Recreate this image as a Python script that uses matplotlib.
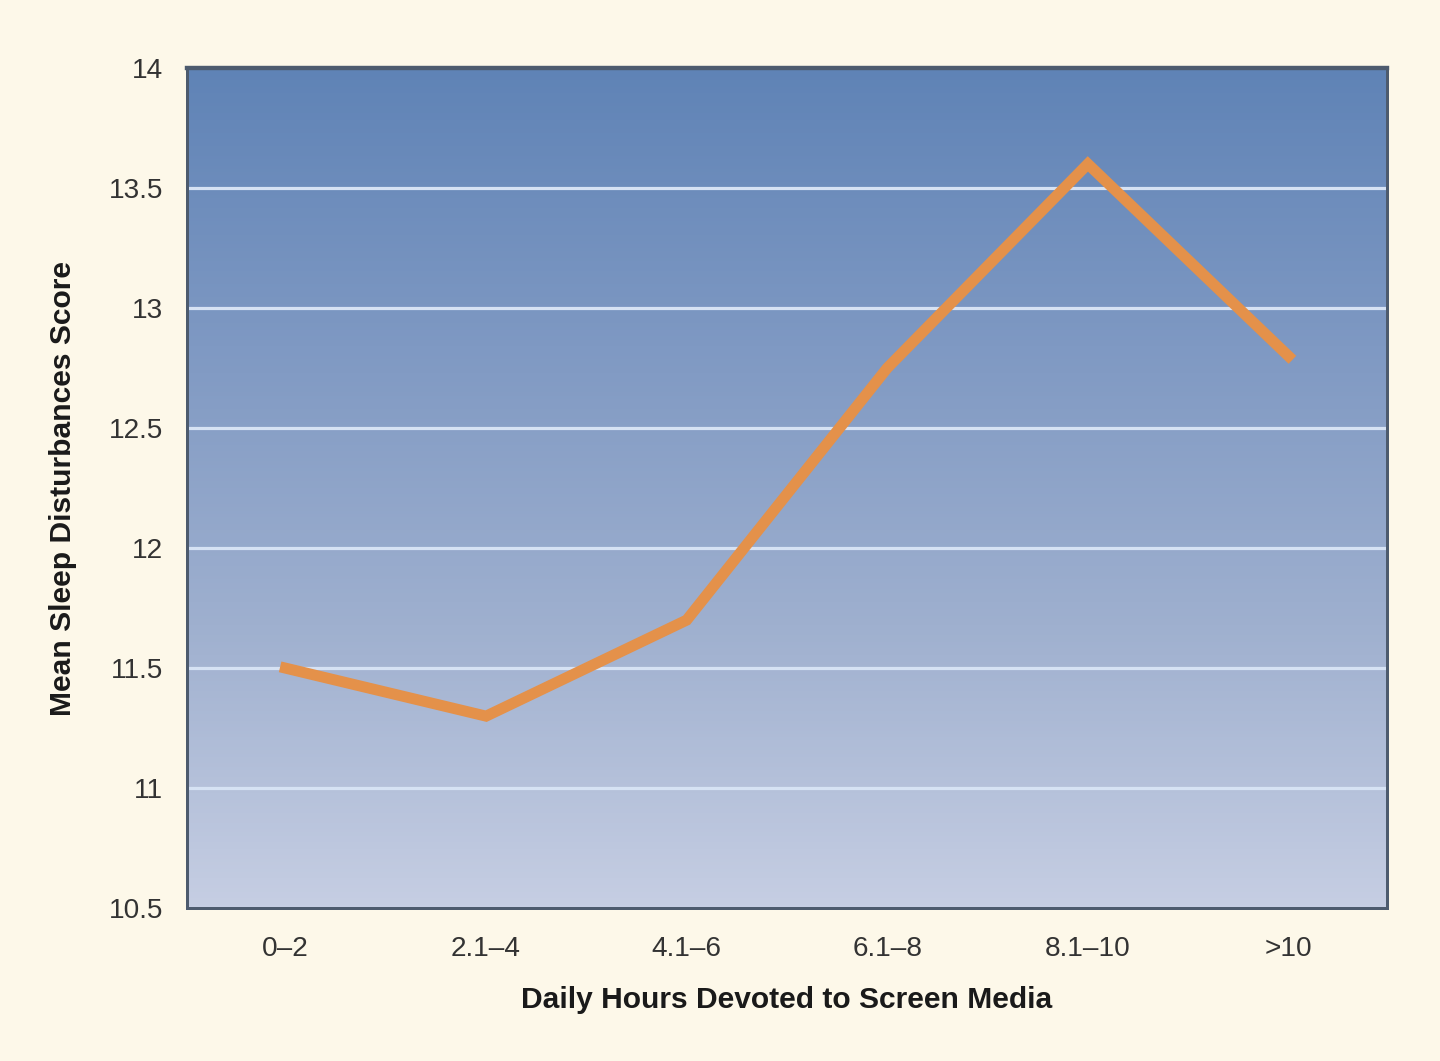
import numpy as np
import matplotlib
matplotlib.use("Agg")
import matplotlib.pyplot as plt
from matplotlib.colors import LinearSegmentedColormap

# data
categories = ["0\u20132", "2.1\u20134", "4.1\u20136", "6.1\u20138", "8.1\u201310", ">10"]
scores = [11.5, 11.3, 11.7, 12.75, 13.6, 12.8]
yticks = [10.5, 11, 11.5, 12, 12.5, 13, 13.5, 14]
ytick_labels = ["10.5", "11", "11.5", "12", "12.5", "13", "13.5", "14"]

plt.rcParams['font.family'] = ['Liberation Sans', 'DejaVu Sans']

fig = plt.figure(figsize=(10, 1061 / 144), dpi=144, facecolor="#fdf8e9")
ax = fig.add_axes([0.130, 0.144, 0.833, 0.792])

# background gradient, dark blue top to pale blue bottom
cmap = LinearSegmentedColormap.from_list("bg", ["#c6cee3", "#9fb0cf", "#7f99c3", "#5f83b6"])
grad = np.linspace(0, 1, 256).reshape(-1, 1)
ax.imshow(grad, cmap=cmap, aspect="auto", origin="lower",
          extent=[0, 1, 0, 1], transform=ax.transAxes, zorder=0)

x = np.arange(len(categories))
ax.set_xlim(-0.49, len(categories) - 0.51)
ax.set_ylim(10.5, 14)

for yv in yticks[1:-1]:
    ax.axhline(yv, color="#d6e2f4", lw=1.6, zorder=1)

ax.plot(x, scores, color="#e4914a", lw=5.5, solid_joinstyle="miter", zorder=3)

ax.set_xticks(x)
ax.set_xticklabels(categories)
ax.set_yticks(yticks)
ax.set_yticklabels(ytick_labels)
ax.tick_params(length=0, labelsize=14, colors="#333333")
ax.tick_params(axis="x", pad=14)
ax.tick_params(axis="y", pad=12)

for s in ax.spines.values():
    s.set_color("#4d5b6e")
    s.set_linewidth(1.5)
ax.spines["top"].set_linewidth(2.2)

ax.set_xlabel("Daily Hours Devoted to Screen Media", fontsize=15, fontweight="bold",
              color="#1a1a1a", labelpad=12)
ax.set_ylabel("Mean Sleep Disturbances Score", fontsize=15, fontweight="bold",
              color="#1a1a1a", labelpad=16)

fig.savefig("out.png", dpi=144, facecolor=fig.get_facecolor())
